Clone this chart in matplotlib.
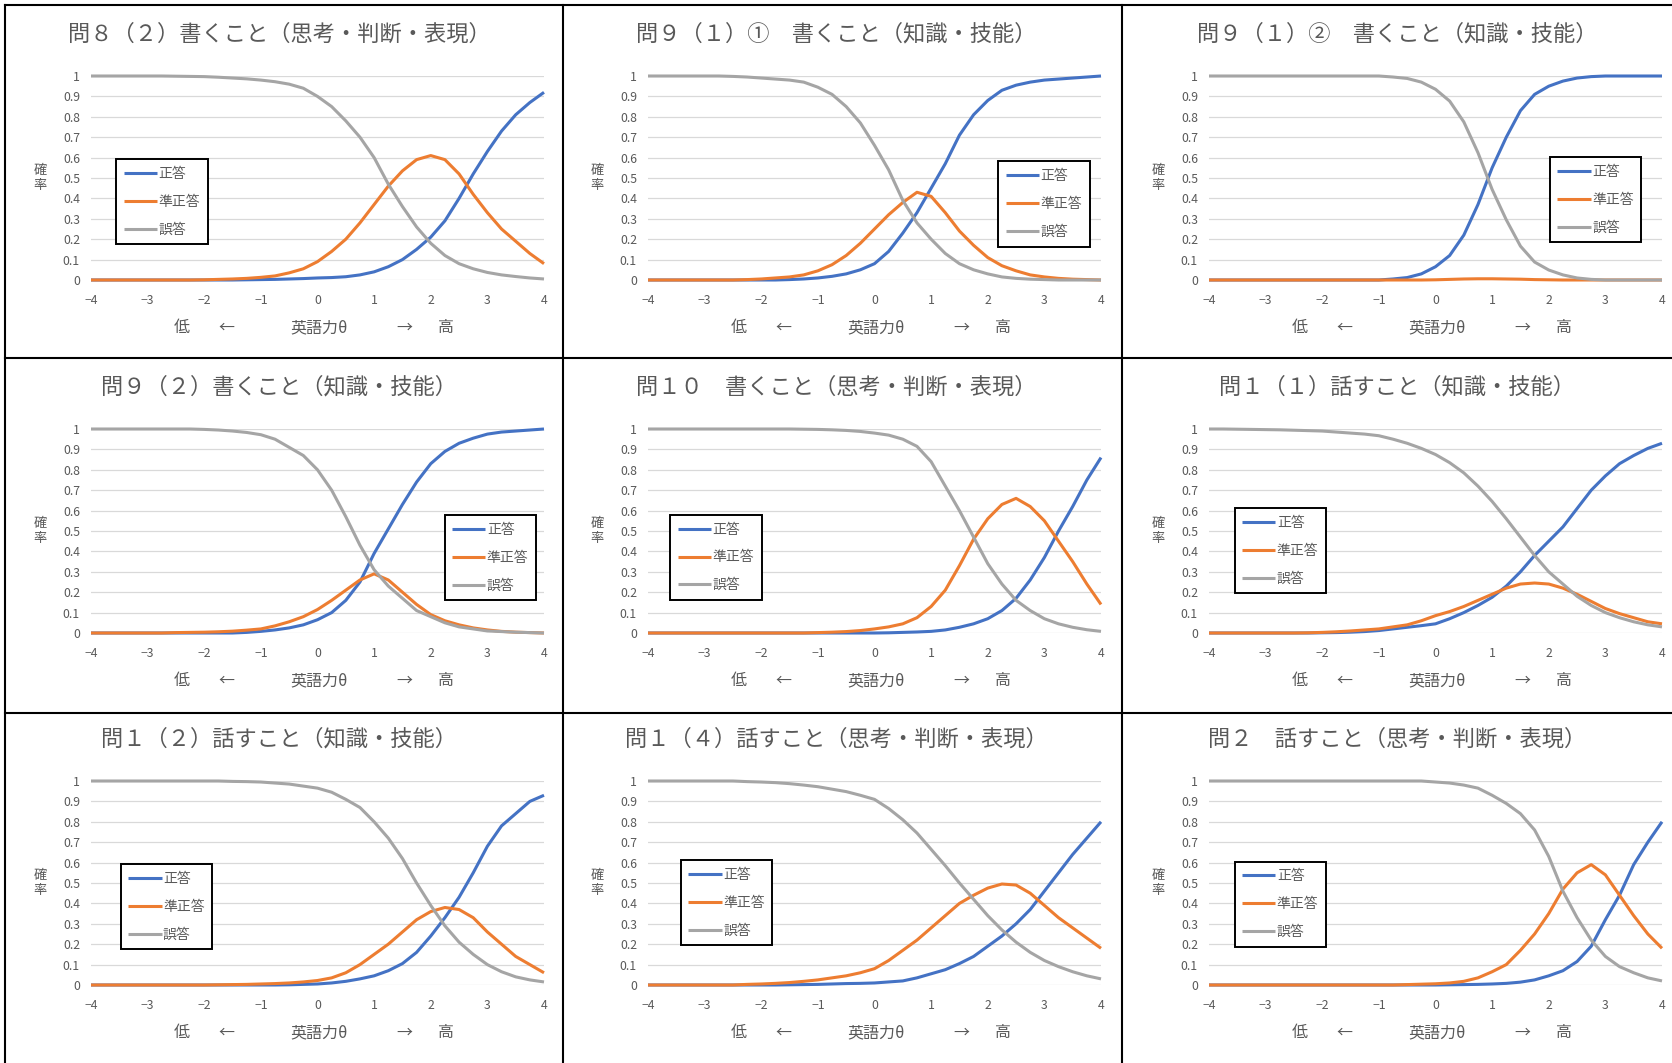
import matplotlib
matplotlib.use('Agg')
import matplotlib.pyplot as plt
import matplotlib.transforms as mtransforms
from matplotlib.lines import Line2D
import numpy as np

plt.rcParams['font.family'] = ['Noto Sans CJK JP', 'DejaVu Sans']

# ability scale (theta), read every 0.25
theta = np.arange(-4, 4.001, 0.25)
series_names = ['正答', '準正答', '誤答']
x_ticks = [-4, -3, -2, -1, 0, 1, 2, 3, 4]
y_ticks = [0, 0.1, 0.2, 0.3, 0.4, 0.5, 0.6, 0.7, 0.8, 0.9, 1]

titles = ['問８（２）書くこと（思考・判断・表現）',
          '問９（１）①　書くこと（知識・技能）',
          '問９（１）②　書くこと（知識・技能）',
          '問９（２）書くこと（知識・技能）',
          '問１０　書くこと（思考・判断・表現）',
          '問１（１）話すこと（知識・技能）',
          '問１（２）話すこと（知識・技能）',
          '問１（４）話すこと（思考・判断・表現）',
          '問２　話すこと（思考・判断・表現）']

# 問8(2)
q8_2_correct = [0, 0, 0, 0, 0, 0, 0, 0, 0, 0, 0,
                0.001, 0.002, 0.003, 0.005, 0.007, 0.01, 0.012, 0.016, 0.025, 0.04, 0.065,
                0.1, 0.15, 0.21, 0.29, 0.4, 0.52, 0.63, 0.73, 0.81, 0.87, 0.92]
q8_2_partial = [0, 0, 0, 0, 0, 0, 0, 0, 0.001, 0.003, 0.005,
                0.008, 0.013, 0.02, 0.035, 0.055, 0.09, 0.14, 0.2, 0.28, 0.37, 0.46,
                0.535, 0.59, 0.61, 0.59, 0.52, 0.42, 0.33, 0.25, 0.19, 0.13, 0.08]
q8_2_wrong = [1, 1, 1, 1, 1, 1, 0.999, 0.998, 0.997, 0.994, 0.99,
              0.986, 0.98, 0.972, 0.96, 0.94, 0.9, 0.85, 0.78, 0.7, 0.6, 0.47,
              0.36, 0.26, 0.18, 0.12, 0.08, 0.055, 0.037, 0.025, 0.017, 0.01, 0.005]

# 問9(1)①
q9_1a_correct = [0, 0, 0, 0, 0, 0, 0, 0, 0, 0, 0.002,
                 0.005, 0.01, 0.018, 0.03, 0.05, 0.08, 0.14, 0.23, 0.33, 0.45, 0.57,
                 0.71, 0.81, 0.88, 0.93, 0.955, 0.97, 0.98, 0.985, 0.99, 0.995, 1]
q9_1a_partial = [0, 0, 0, 0, 0, 0, 0, 0.002, 0.005, 0.01, 0.015,
                 0.025, 0.045, 0.075, 0.12, 0.18, 0.25, 0.32, 0.38, 0.43, 0.41, 0.33,
                 0.24, 0.17, 0.11, 0.07, 0.045, 0.025, 0.015, 0.008, 0.004, 0.002, 0]
q9_1a_wrong = [1, 1, 1, 1, 1, 1, 0.998, 0.995, 0.99, 0.985, 0.98,
               0.97, 0.945, 0.91, 0.85, 0.77, 0.66, 0.54, 0.39, 0.28, 0.2, 0.13,
               0.08, 0.05, 0.03, 0.015, 0.008, 0.004, 0.002, 0, 0, 0, 0]

# 問9(1)②
q9_1b_correct = [0, 0, 0, 0, 0, 0, 0, 0, 0, 0, 0,
                 0, 0, 0.005, 0.012, 0.03, 0.065, 0.12, 0.22, 0.37, 0.55, 0.7,
                 0.83, 0.91, 0.95, 0.975, 0.99, 0.997, 1, 1, 1, 1, 1]
q9_1b_partial = [0, 0, 0, 0, 0, 0, 0, 0, 0, 0, 0,
                 0, 0, 0, 0, 0, 0.001, 0.003, 0.005, 0.006, 0.006, 0.005,
                 0.004, 0.002, 0.001, 0, 0, 0, 0, 0, 0, 0, 0]
q9_1b_wrong = [1, 1, 1, 1, 1, 1, 1, 1, 1, 1, 1,
               1, 1, 0.995, 0.988, 0.97, 0.935, 0.877, 0.775, 0.624, 0.444, 0.295,
               0.166, 0.088, 0.049, 0.025, 0.01, 0.003, 0, 0, 0, 0, 0]

# 問9(2)
q9_2_correct = [0, 0, 0, 0, 0, 0, 0, 0, 0, 0, 0,
                0.003, 0.008, 0.015, 0.025, 0.04, 0.065, 0.1, 0.16, 0.25, 0.39, 0.51,
                0.63, 0.74, 0.83, 0.89, 0.93, 0.955, 0.975, 0.985, 0.99, 0.995, 1]
q9_2_partial = [0, 0, 0, 0, 0, 0, 0.002, 0.003, 0.004, 0.006, 0.009,
                0.014, 0.02, 0.035, 0.055, 0.08, 0.115, 0.16, 0.21, 0.26, 0.29, 0.26,
                0.2, 0.14, 0.09, 0.06, 0.04, 0.025, 0.015, 0.008, 0.004, 0.002, 0]
q9_2_wrong = [1, 1, 1, 1, 1, 1, 1, 1, 0.998, 0.995, 0.99,
              0.983, 0.972, 0.95, 0.91, 0.87, 0.8, 0.7, 0.57, 0.43, 0.31, 0.23,
              0.17, 0.11, 0.08, 0.05, 0.03, 0.02, 0.01, 0.007, 0.004, 0.002, 0]

# 問10
q10_correct = [0, 0, 0, 0, 0, 0, 0, 0, 0, 0, 0,
               0, 0, 0, 0, 0, 0, 0.001, 0.003, 0.005, 0.008, 0.015,
               0.028, 0.045, 0.07, 0.11, 0.17, 0.26, 0.37, 0.5, 0.62, 0.75, 0.86]
q10_partial = [0, 0, 0, 0, 0, 0, 0, 0, 0, 0, 0,
               0, 0.002, 0.004, 0.007, 0.012, 0.02, 0.03, 0.045, 0.075, 0.13, 0.21,
               0.33, 0.46, 0.56, 0.63, 0.66, 0.62, 0.55, 0.45, 0.35, 0.24, 0.14]
q10_wrong = [1, 1, 1, 1, 1, 1, 1, 1, 1, 1, 1,
             0.999, 0.998, 0.996, 0.993, 0.988, 0.98, 0.97, 0.95, 0.915, 0.84, 0.72,
             0.6, 0.47, 0.34, 0.24, 0.16, 0.11, 0.07, 0.045, 0.028, 0.016, 0.008]

# 問1(1)
q1_1_correct = [0, 0, 0, 0, 0, 0, 0, 0, 0.001, 0.002, 0.004,
                0.007, 0.012, 0.02, 0.028, 0.036, 0.045, 0.07, 0.1, 0.135, 0.175, 0.23,
                0.3, 0.38, 0.45, 0.52, 0.61, 0.7, 0.77, 0.83, 0.87, 0.905, 0.93]
q1_1_partial = [0, 0, 0, 0, 0, 0, 0, 0.001, 0.003, 0.006, 0.01,
                0.015, 0.02, 0.03, 0.04, 0.06, 0.085, 0.105, 0.13, 0.16, 0.19, 0.22,
                0.24, 0.245, 0.24, 0.22, 0.19, 0.155, 0.12, 0.095, 0.075, 0.055, 0.045]
q1_1_wrong = [1, 1, 0.999, 0.998, 0.997, 0.996, 0.994, 0.992, 0.99, 0.985, 0.98,
              0.975, 0.967, 0.95, 0.93, 0.905, 0.875, 0.835, 0.785, 0.72, 0.645, 0.56,
              0.47, 0.38, 0.3, 0.24, 0.18, 0.135, 0.1, 0.075, 0.055, 0.04, 0.03]

# 問1(2)
q1_2_correct = [0, 0, 0, 0, 0, 0, 0, 0, 0, 0, 0,
                0, 0, 0, 0.001, 0.003, 0.005, 0.01, 0.018, 0.03, 0.045, 0.07,
                0.105, 0.16, 0.24, 0.33, 0.43, 0.55, 0.68, 0.78, 0.84, 0.9, 0.93]
q1_2_partial = [0, 0, 0, 0, 0, 0, 0, 0, 0, 0.001, 0.002,
                0.003, 0.005, 0.007, 0.01, 0.015, 0.022, 0.035, 0.06, 0.1, 0.15, 0.2,
                0.26, 0.32, 0.36, 0.38, 0.37, 0.33, 0.26, 0.2, 0.14, 0.1, 0.06]
q1_2_wrong = [1, 1, 1, 1, 1, 1, 1, 1, 1, 1, 0.998,
              0.997, 0.995, 0.99, 0.985, 0.975, 0.965, 0.945, 0.91, 0.87, 0.8, 0.72,
              0.62, 0.5, 0.39, 0.29, 0.21, 0.15, 0.1, 0.065, 0.04, 0.025, 0.015]

# 問1(4)
q1_4_correct = [0, 0, 0, 0, 0, 0, 0, 0, 0, 0, 0.001,
                0.002, 0.003, 0.005, 0.007, 0.008, 0.01, 0.015, 0.02, 0.035, 0.055, 0.075,
                0.105, 0.14, 0.19, 0.24, 0.3, 0.37, 0.46, 0.55, 0.64, 0.72, 0.8]
q1_4_partial = [0, 0, 0, 0, 0, 0, 0, 0.003, 0.005, 0.008, 0.012,
                0.018, 0.025, 0.035, 0.045, 0.06, 0.08, 0.12, 0.17, 0.22, 0.28, 0.34,
                0.4, 0.44, 0.475, 0.495, 0.49, 0.45, 0.39, 0.33, 0.28, 0.23, 0.18]
q1_4_wrong = [1, 1, 1, 1, 1, 1, 1, 0.997, 0.995, 0.992, 0.987,
              0.98, 0.972, 0.96, 0.948, 0.93, 0.91, 0.865, 0.81, 0.745, 0.665, 0.585,
              0.5, 0.42, 0.34, 0.27, 0.21, 0.16, 0.12, 0.09, 0.065, 0.045, 0.03]

# 問2
q2_correct = [0, 0, 0, 0, 0, 0, 0, 0, 0, 0, 0,
              0, 0, 0, 0, 0, 0, 0.001, 0.002, 0.003, 0.005, 0.008,
              0.014, 0.025, 0.045, 0.07, 0.115, 0.19, 0.32, 0.44, 0.59, 0.7, 0.8]
q2_partial = [0, 0, 0, 0, 0, 0, 0, 0, 0, 0, 0,
              0, 0, 0, 0.002, 0.004, 0.006, 0.01, 0.018, 0.035, 0.065, 0.1,
              0.17, 0.25, 0.35, 0.47, 0.55, 0.59, 0.54, 0.44, 0.34, 0.25, 0.18]
q2_wrong = [1, 1, 1, 1, 1, 1, 1, 1, 1, 1, 1,
            1, 1, 1, 1, 1, 0.995, 0.99, 0.98, 0.965, 0.93, 0.89,
            0.84, 0.76, 0.63, 0.46, 0.33, 0.22, 0.14, 0.09, 0.06, 0.035, 0.02]

panel_data = [
    (q8_2_correct, q8_2_partial, q8_2_wrong),
    (q9_1a_correct, q9_1a_partial, q9_1a_wrong),
    (q9_1b_correct, q9_1b_partial, q9_1b_wrong),
    (q9_2_correct, q9_2_partial, q9_2_wrong),
    (q10_correct, q10_partial, q10_wrong),
    (q1_1_correct, q1_1_partial, q1_1_wrong),
    (q1_2_correct, q1_2_partial, q1_2_wrong),
    (q1_4_correct, q1_4_partial, q1_4_wrong),
    (q2_correct, q2_partial, q2_wrong),
]

# legend placement per panel (axes fraction)
legend_pos = [('lower left', (0.04, 0.14)), ('lower right', (0.99, 0.13)),
              ('lower right', (0.97, 0.15)), ('lower right', (0.998, 0.126)),
              ('lower left', (0.033, 0.128)), ('lower left', (0.041, 0.16)),
              ('lower left', (0.05, 0.14)), ('lower left', (0.057, 0.16)),
              ('lower left', (0.041, 0.154))]

colors = ['#4472C4', '#ED7D31', '#A5A5A5']
text_col = '#595959'

W, H = 1672, 1063
fig = plt.figure(figsize=(W / 100, H / 100), dpi=100)

col_left = [91, 648, 1209]
row_top = [76, 429, 781]
ax_w, ax_h = 453, 204

for k in range(9):
    r, c = k // 3, k % 3
    l, t = col_left[c], row_top[r]
    ax = fig.add_axes([l / W, 1 - (t + ax_h) / H, ax_w / W, ax_h / H])
    for vals, col, name in zip(panel_data[k], colors, series_names):
        ax.plot(theta, vals, color=col, lw=2.2, label=name, clip_on=False,
                solid_capstyle='butt')
    ax.set_xlim(-4, 4)
    ax.set_ylim(0, 1)
    ax.set_xticks(x_ticks)
    ax.set_yticks(y_ticks)
    ax.set_yticklabels([f'{v:g}' for v in y_ticks])
    ax.tick_params(length=0, labelsize=8.8, colors=text_col)
    ax.tick_params(axis='x', pad=10)
    ax.tick_params(axis='y', pad=8)
    ax.yaxis.grid(True, color='#d9d9d9', lw=0.9)
    ax.set_axisbelow(True)
    for s in ax.spines.values():
        s.set_visible(False)

    ax.text(0.415, 1.205, titles[k], transform=ax.transAxes, ha='center',
            va='center', fontsize=16, color=text_col)
    ax.text(-0.112, 0.5, '確\n率', transform=ax.transAxes, ha='center',
            va='center', fontsize=9.5, color=text_col, linespacing=1.15)

    trans = mtransforms.blended_transform_factory(ax.transData, ax.transAxes)
    for xpos, s in [(-2.4, '低'), (-1.6, '←'), (0.03, '英語力θ'),
                    (1.53, '→'), (2.27, '高')]:
        ax.text(xpos, -0.235, s, transform=trans, ha='center', va='center',
                fontsize=11.5, color=text_col)

    loc, anchor = legend_pos[k]
    leg = ax.legend(loc=loc, bbox_to_anchor=anchor, fontsize=10,
                    frameon=True, fancybox=False, edgecolor='black',
                    framealpha=1, handlelength=2.4, handletextpad=0.1,
                    labelspacing=1.0, borderpad=0.55)
    leg.get_frame().set_linewidth(1.4)
    for txt in leg.get_texts():
        txt.set_color(text_col)

# cell borders
for x in [5, 563, 1122]:
    fig.add_artist(Line2D([x / W, x / W], [0, 1 - 5 / H], color='black', lw=1.5))
for y in [5, 358, 713]:
    fig.add_artist(Line2D([5 / W, 1], [1 - y / H, 1 - y / H], color='black', lw=1.5))

fig.savefig('out.png', dpi=100)
